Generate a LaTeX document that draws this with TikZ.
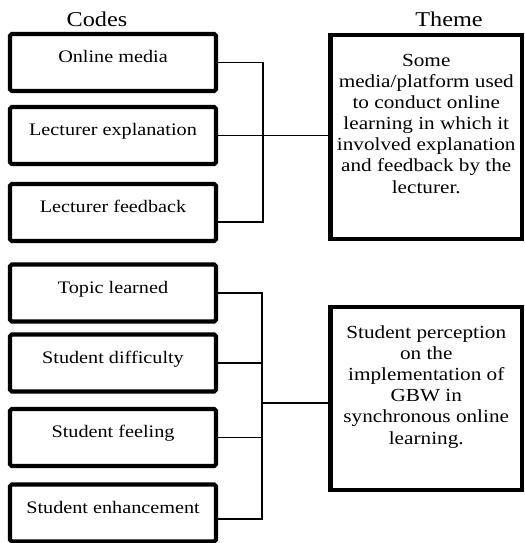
\documentclass[tikz,border=0pt]{standalone}
\usepackage{fontspec}
\setmainfont{Liberation Serif}[FakeStretch=1.15]
\usetikzlibrary{positioning,calc}

\begin{document}
\begin{tikzpicture}[
	code/.style={rectangle, draw=black, line width=2.3pt, rounded corners=1pt, inner sep=0pt, minimum width=4.12cm, text height=0.57cm, text depth=0.57cm, font=\fontsize{10}{10.8}\selectfont},
	theme/.style={rectangle, draw=black, line width=2.8pt, inner sep=0pt, minimum width=3.83cm, align=center, font=\fontsize{10.5}{12}\selectfont},
	link/.style={line width=0.75pt},
	title/.style={anchor=base, font=\fontsize{12}{14}\selectfont}
	]
	\useasboundingbox (0,0) rectangle (10.48,-10.86);
	
	\node[title] (H1) at (1.94,-0.54) {Codes};
	\node[title] (H2) at (8.98,-0.54) {Theme};
	
	\node[code] (M1) at (2.26,-1.25) {Online media};
	\node[code] (M2) at (2.26,-2.71) {Lecturer explanation};
	\node[code] (M3) at (2.26,-4.25) {Lecturer feedback};
	
	\node[code] (P1) at (2.26,-5.86) {Topic learned};
	\node[code] (P2) at (2.26,-7.26) {Student difficulty};
	\node[code] (P3) at (2.26,-8.75) {Student feeling};
	\node[code] (P4) at (2.26,-10.26) {Student enhancement};
	
	\node[theme, text height=3.16cm, text depth=0.92cm] (T1) at (8.525,-2.74)
		{Some\\media/platform used\\to conduct online\\learning in which it\\involved explanation\\and feedback by the\\lecturer.};
	\node[theme, text height=2.74cm, text depth=0.92cm] (T2) at (8.525,-7.97)
		{Student perception\\on the\\implementation of\\GBW in\\synchronous online\\learning.};
	
	\coordinate (bus1) at (5.26,0);
	\coordinate (bus2) at (5.24,0);
	
	\draw[link] (M1.east) -- (M1.east -| bus1) -- ([yshift=-0.19cm]M3.east -| bus1) -- ([yshift=-0.19cm]M3.east);
	\draw[link] (M2.east) -- (M2.east -| T1.west);
	
	\draw[link] (P1.east) -- (P1.east -| bus2) -- ([yshift=-0.12cm]P4.east -| bus2) -- ([yshift=-0.12cm]P4.east);
	\draw[link] (P2.east) -- (P2.east -| bus2);
	\draw[link] (P3.east) -- (P3.east -| bus2);
	\draw[link] ([yshift=-0.09cm]T2.west -| bus2) -- ([yshift=-0.09cm]T2.west);
\end{tikzpicture}
\end{document}
